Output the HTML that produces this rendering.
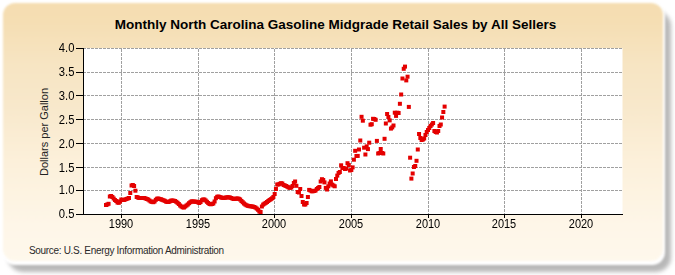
<!DOCTYPE html>
<html><head><meta charset="utf-8"><style>
html,body{margin:0;padding:0;background:#fff;}
body{width:675px;height:275px;position:relative;overflow:hidden;font-family:"Liberation Sans",sans-serif;}
.shadow{position:absolute;left:8px;top:11px;width:662.5px;height:261px;border-radius:15px;background:#b8b8b8;filter:blur(2.2px);}
.rim{position:absolute;left:2px;top:2px;width:663px;height:262.5px;border-radius:13px;background:#ffffff;filter:blur(1px);}
.card{position:absolute;left:3px;top:3px;width:659.5px;height:257.5px;border-radius:12px;filter:blur(1px);
 background:linear-gradient(to bottom,rgb(245,221,177) 0%,rgb(245,222,179) 7%,rgb(247,229,195) 24%,rgb(248,232,203) 39.5%,rgb(252,240,218) 61%,rgb(254,246,232) 86%,rgb(254,248,236) 100%);}
.title{position:absolute;left:-2px;width:675px;top:17px;text-align:center;font-weight:bold;font-size:13.5px;color:#000;white-space:nowrap;}
.yl{position:absolute;left:40px;width:34.5px;text-align:right;font-size:12.5px;transform:scaleX(0.9);transform-origin:100% 0;color:#000;line-height:14px;}
.xl{position:absolute;top:216.5px;width:40px;text-align:center;font-size:12.5px;transform:scaleX(0.88);transform-origin:50% 0;color:#000;line-height:14px;}
.ylab{position:absolute;left:44px;top:131.5px;font-size:11px;color:#222;white-space:nowrap;transform:translate(-50%,-50%) rotate(-90deg);line-height:12px;}
.src{position:absolute;left:29px;top:245px;font-size:10px;letter-spacing:-0.32px;color:#2a2a2a;white-space:nowrap;line-height:12px;}
svg{position:absolute;left:0;top:0;}
</style></head><body>
<div class="shadow"></div><div class="rim"></div><div class="card"></div>
<svg width="675" height="275">
<rect x="84" y="48" width="538.5" height="166" fill="#fff"/>
<g stroke="#a0a0a0" stroke-width="1" stroke-dasharray="3,1"><line x1="83" y1="48.5" x2="622.5" y2="48.5"/><line x1="83" y1="72.5" x2="622.5" y2="72.5"/><line x1="83" y1="95.5" x2="622.5" y2="95.5"/><line x1="83" y1="119.5" x2="622.5" y2="119.5"/><line x1="83" y1="143.5" x2="622.5" y2="143.5"/><line x1="83" y1="167.5" x2="622.5" y2="167.5"/><line x1="83" y1="190.5" x2="622.5" y2="190.5"/><line x1="121.5" y1="49" x2="121.5" y2="214"/><line x1="198.5" y1="49" x2="198.5" y2="214"/><line x1="274.5" y1="49" x2="274.5" y2="214"/><line x1="351.5" y1="49" x2="351.5" y2="214"/><line x1="428.5" y1="49" x2="428.5" y2="214"/><line x1="504.5" y1="49" x2="504.5" y2="214"/><line x1="581.5" y1="49" x2="581.5" y2="214"/></g>
<g fill="#e40000"><rect x="104.00" y="203.00" width="4" height="4"/><rect x="105.28" y="202.50" width="4" height="4"/><rect x="106.56" y="201.80" width="4" height="4"/><rect x="107.83" y="194.50" width="4" height="4"/><rect x="109.11" y="194.00" width="4" height="4"/><rect x="110.39" y="195.00" width="4" height="4"/><rect x="111.67" y="196.50" width="4" height="4"/><rect x="112.94" y="198.00" width="4" height="4"/><rect x="114.22" y="199.00" width="4" height="4"/><rect x="115.50" y="200.50" width="4" height="4"/><rect x="116.78" y="200.80" width="4" height="4"/><rect x="118.06" y="199.50" width="4" height="4"/><rect x="119.33" y="197.50" width="4" height="4"/><rect x="120.61" y="198.00" width="4" height="4"/><rect x="121.89" y="198.00" width="4" height="4"/><rect x="123.17" y="197.50" width="4" height="4"/><rect x="124.44" y="197.00" width="4" height="4"/><rect x="125.72" y="196.50" width="4" height="4"/><rect x="127.00" y="196.00" width="4" height="4"/><rect x="128.28" y="191.00" width="4" height="4"/><rect x="129.56" y="183.50" width="4" height="4"/><rect x="130.83" y="183.00" width="4" height="4"/><rect x="132.11" y="184.00" width="4" height="4"/><rect x="133.39" y="188.70" width="4" height="4"/><rect x="134.67" y="195.00" width="4" height="4"/><rect x="135.94" y="195.50" width="4" height="4"/><rect x="137.22" y="196.00" width="4" height="4"/><rect x="138.50" y="196.00" width="4" height="4"/><rect x="139.78" y="196.00" width="4" height="4"/><rect x="141.06" y="196.00" width="4" height="4"/><rect x="142.33" y="196.00" width="4" height="4"/><rect x="143.61" y="196.50" width="4" height="4"/><rect x="144.89" y="197.00" width="4" height="4"/><rect x="146.17" y="197.50" width="4" height="4"/><rect x="147.45" y="198.50" width="4" height="4"/><rect x="148.72" y="199.50" width="4" height="4"/><rect x="150.00" y="199.80" width="4" height="4"/><rect x="151.28" y="200.20" width="4" height="4"/><rect x="152.56" y="199.50" width="4" height="4"/><rect x="153.83" y="197.80" width="4" height="4"/><rect x="155.11" y="196.70" width="4" height="4"/><rect x="156.39" y="196.50" width="4" height="4"/><rect x="157.67" y="197.00" width="4" height="4"/><rect x="158.95" y="197.30" width="4" height="4"/><rect x="160.22" y="197.80" width="4" height="4"/><rect x="161.50" y="198.30" width="4" height="4"/><rect x="162.78" y="198.80" width="4" height="4"/><rect x="164.06" y="199.60" width="4" height="4"/><rect x="165.33" y="200.00" width="4" height="4"/><rect x="166.61" y="200.00" width="4" height="4"/><rect x="167.89" y="199.30" width="4" height="4"/><rect x="169.17" y="198.60" width="4" height="4"/><rect x="170.45" y="198.50" width="4" height="4"/><rect x="171.72" y="198.70" width="4" height="4"/><rect x="173.00" y="199.00" width="4" height="4"/><rect x="174.28" y="199.80" width="4" height="4"/><rect x="175.56" y="200.80" width="4" height="4"/><rect x="176.83" y="202.00" width="4" height="4"/><rect x="178.11" y="203.50" width="4" height="4"/><rect x="179.39" y="204.50" width="4" height="4"/><rect x="180.67" y="205.30" width="4" height="4"/><rect x="181.95" y="205.50" width="4" height="4"/><rect x="183.22" y="204.50" width="4" height="4"/><rect x="184.50" y="203.50" width="4" height="4"/><rect x="185.78" y="202.50" width="4" height="4"/><rect x="187.06" y="201.20" width="4" height="4"/><rect x="188.33" y="200.20" width="4" height="4"/><rect x="189.61" y="199.30" width="4" height="4"/><rect x="190.89" y="199.50" width="4" height="4"/><rect x="192.17" y="199.60" width="4" height="4"/><rect x="193.45" y="199.70" width="4" height="4"/><rect x="194.72" y="199.80" width="4" height="4"/><rect x="196.00" y="200.30" width="4" height="4"/><rect x="197.28" y="201.00" width="4" height="4"/><rect x="198.56" y="200.00" width="4" height="4"/><rect x="199.84" y="198.20" width="4" height="4"/><rect x="201.11" y="197.50" width="4" height="4"/><rect x="202.39" y="197.50" width="4" height="4"/><rect x="203.67" y="198.50" width="4" height="4"/><rect x="204.95" y="199.80" width="4" height="4"/><rect x="206.22" y="201.00" width="4" height="4"/><rect x="207.50" y="202.00" width="4" height="4"/><rect x="208.78" y="202.30" width="4" height="4"/><rect x="210.06" y="202.00" width="4" height="4"/><rect x="211.34" y="201.50" width="4" height="4"/><rect x="212.61" y="199.50" width="4" height="4"/><rect x="213.89" y="196.20" width="4" height="4"/><rect x="215.17" y="194.80" width="4" height="4"/><rect x="216.45" y="194.50" width="4" height="4"/><rect x="217.72" y="195.00" width="4" height="4"/><rect x="219.00" y="195.50" width="4" height="4"/><rect x="220.28" y="195.80" width="4" height="4"/><rect x="221.56" y="196.00" width="4" height="4"/><rect x="222.84" y="195.80" width="4" height="4"/><rect x="224.11" y="195.50" width="4" height="4"/><rect x="225.39" y="195.30" width="4" height="4"/><rect x="226.67" y="195.30" width="4" height="4"/><rect x="227.95" y="195.50" width="4" height="4"/><rect x="229.22" y="196.00" width="4" height="4"/><rect x="230.50" y="196.60" width="4" height="4"/><rect x="231.78" y="197.00" width="4" height="4"/><rect x="233.06" y="196.80" width="4" height="4"/><rect x="234.34" y="196.60" width="4" height="4"/><rect x="235.61" y="196.50" width="4" height="4"/><rect x="236.89" y="196.80" width="4" height="4"/><rect x="238.17" y="197.50" width="4" height="4"/><rect x="239.45" y="199.00" width="4" height="4"/><rect x="240.72" y="200.20" width="4" height="4"/><rect x="242.00" y="201.50" width="4" height="4"/><rect x="243.28" y="202.50" width="4" height="4"/><rect x="244.56" y="203.30" width="4" height="4"/><rect x="245.84" y="203.80" width="4" height="4"/><rect x="247.11" y="204.10" width="4" height="4"/><rect x="248.39" y="204.30" width="4" height="4"/><rect x="249.67" y="204.40" width="4" height="4"/><rect x="250.95" y="204.60" width="4" height="4"/><rect x="252.22" y="205.00" width="4" height="4"/><rect x="253.50" y="205.60" width="4" height="4"/><rect x="254.78" y="206.60" width="4" height="4"/><rect x="256.06" y="207.80" width="4" height="4"/><rect x="257.34" y="209.50" width="4" height="4"/><rect x="258.61" y="210.00" width="4" height="4"/><rect x="259.89" y="204.50" width="4" height="4"/><rect x="261.17" y="202.60" width="4" height="4"/><rect x="262.45" y="201.70" width="4" height="4"/><rect x="263.73" y="200.90" width="4" height="4"/><rect x="265.00" y="200.00" width="4" height="4"/><rect x="266.28" y="199.00" width="4" height="4"/><rect x="267.56" y="198.00" width="4" height="4"/><rect x="268.84" y="197.20" width="4" height="4"/><rect x="270.11" y="196.30" width="4" height="4"/><rect x="271.39" y="195.00" width="4" height="4"/><rect x="272.67" y="192.00" width="4" height="4"/><rect x="273.95" y="187.00" width="4" height="4"/><rect x="275.23" y="182.50" width="4" height="4"/><rect x="276.50" y="182.50" width="4" height="4"/><rect x="277.78" y="181.80" width="4" height="4"/><rect x="279.06" y="181.20" width="4" height="4"/><rect x="280.34" y="181.50" width="4" height="4"/><rect x="281.61" y="183.00" width="4" height="4"/><rect x="282.89" y="183.50" width="4" height="4"/><rect x="284.17" y="184.00" width="4" height="4"/><rect x="285.45" y="184.80" width="4" height="4"/><rect x="286.73" y="185.50" width="4" height="4"/><rect x="288.00" y="185.80" width="4" height="4"/><rect x="289.28" y="185.50" width="4" height="4"/><rect x="290.56" y="184.00" width="4" height="4"/><rect x="291.84" y="181.00" width="4" height="4"/><rect x="293.11" y="179.50" width="4" height="4"/><rect x="294.39" y="183.80" width="4" height="4"/><rect x="295.67" y="190.00" width="4" height="4"/><rect x="296.95" y="190.50" width="4" height="4"/><rect x="298.23" y="187.00" width="4" height="4"/><rect x="299.50" y="194.00" width="4" height="4"/><rect x="300.78" y="200.00" width="4" height="4"/><rect x="302.06" y="202.50" width="4" height="4"/><rect x="303.34" y="202.50" width="4" height="4"/><rect x="304.61" y="201.00" width="4" height="4"/><rect x="305.89" y="195.00" width="4" height="4"/><rect x="307.17" y="187.90" width="4" height="4"/><rect x="308.45" y="188.50" width="4" height="4"/><rect x="309.73" y="189.30" width="4" height="4"/><rect x="311.00" y="189.20" width="4" height="4"/><rect x="312.28" y="189.00" width="4" height="4"/><rect x="313.56" y="188.50" width="4" height="4"/><rect x="314.84" y="187.00" width="4" height="4"/><rect x="316.11" y="186.00" width="4" height="4"/><rect x="317.39" y="185.00" width="4" height="4"/><rect x="318.67" y="179.50" width="4" height="4"/><rect x="319.95" y="177.20" width="4" height="4"/><rect x="321.23" y="178.00" width="4" height="4"/><rect x="322.50" y="180.40" width="4" height="4"/><rect x="323.78" y="185.90" width="4" height="4"/><rect x="325.06" y="187.50" width="4" height="4"/><rect x="326.34" y="184.30" width="4" height="4"/><rect x="327.62" y="181.50" width="4" height="4"/><rect x="328.89" y="179.40" width="4" height="4"/><rect x="330.17" y="182.60" width="4" height="4"/><rect x="331.45" y="183.50" width="4" height="4"/><rect x="332.73" y="184.30" width="4" height="4"/><rect x="334.00" y="177.00" width="4" height="4"/><rect x="335.28" y="173.60" width="4" height="4"/><rect x="336.56" y="171.00" width="4" height="4"/><rect x="337.84" y="170.00" width="4" height="4"/><rect x="339.12" y="163.30" width="4" height="4"/><rect x="340.39" y="166.00" width="4" height="4"/><rect x="341.67" y="166.00" width="4" height="4"/><rect x="342.95" y="167.00" width="4" height="4"/><rect x="344.23" y="166.60" width="4" height="4"/><rect x="345.50" y="161.20" width="4" height="4"/><rect x="346.78" y="163.00" width="4" height="4"/><rect x="348.06" y="168.50" width="4" height="4"/><rect x="349.34" y="168.00" width="4" height="4"/><rect x="350.62" y="165.40" width="4" height="4"/><rect x="351.89" y="157.70" width="4" height="4"/><rect x="353.17" y="148.80" width="4" height="4"/><rect x="354.45" y="154.00" width="4" height="4"/><rect x="355.73" y="153.90" width="4" height="4"/><rect x="357.00" y="147.50" width="4" height="4"/><rect x="358.28" y="138.50" width="4" height="4"/><rect x="359.56" y="114.80" width="4" height="4"/><rect x="360.84" y="118.70" width="4" height="4"/><rect x="362.12" y="145.70" width="4" height="4"/><rect x="363.39" y="152.50" width="4" height="4"/><rect x="364.67" y="144.40" width="4" height="4"/><rect x="365.95" y="147.10" width="4" height="4"/><rect x="367.23" y="140.70" width="4" height="4"/><rect x="368.50" y="122.70" width="4" height="4"/><rect x="369.78" y="122.20" width="4" height="4"/><rect x="371.06" y="116.80" width="4" height="4"/><rect x="372.34" y="117.00" width="4" height="4"/><rect x="373.62" y="117.80" width="4" height="4"/><rect x="374.89" y="138.90" width="4" height="4"/><rect x="376.17" y="151.50" width="4" height="4"/><rect x="377.45" y="151.00" width="4" height="4"/><rect x="378.73" y="147.00" width="4" height="4"/><rect x="380.00" y="151.00" width="4" height="4"/><rect x="381.28" y="151.50" width="4" height="4"/><rect x="382.56" y="136.80" width="4" height="4"/><rect x="383.84" y="121.50" width="4" height="4"/><rect x="385.12" y="112.00" width="4" height="4"/><rect x="386.39" y="115.00" width="4" height="4"/><rect x="387.67" y="118.40" width="4" height="4"/><rect x="388.95" y="126.60" width="4" height="4"/><rect x="390.23" y="125.40" width="4" height="4"/><rect x="391.50" y="123.50" width="4" height="4"/><rect x="392.78" y="110.70" width="4" height="4"/><rect x="394.06" y="113.90" width="4" height="4"/><rect x="395.34" y="110.70" width="4" height="4"/><rect x="396.62" y="111.00" width="4" height="4"/><rect x="397.89" y="101.80" width="4" height="4"/><rect x="399.17" y="92.50" width="4" height="4"/><rect x="400.45" y="76.50" width="4" height="4"/><rect x="401.73" y="66.80" width="4" height="4"/><rect x="403.01" y="64.60" width="4" height="4"/><rect x="404.28" y="78.40" width="4" height="4"/><rect x="405.56" y="74.70" width="4" height="4"/><rect x="406.84" y="104.90" width="4" height="4"/><rect x="408.12" y="155.70" width="4" height="4"/><rect x="409.39" y="176.60" width="4" height="4"/><rect x="410.67" y="171.50" width="4" height="4"/><rect x="411.95" y="165.00" width="4" height="4"/><rect x="413.23" y="164.00" width="4" height="4"/><rect x="414.51" y="158.80" width="4" height="4"/><rect x="415.78" y="147.50" width="4" height="4"/><rect x="417.06" y="132.00" width="4" height="4"/><rect x="418.34" y="136.00" width="4" height="4"/><rect x="419.62" y="138.00" width="4" height="4"/><rect x="420.89" y="137.50" width="4" height="4"/><rect x="422.17" y="136.50" width="4" height="4"/><rect x="423.45" y="133.00" width="4" height="4"/><rect x="424.73" y="130.00" width="4" height="4"/><rect x="426.01" y="128.00" width="4" height="4"/><rect x="427.28" y="126.00" width="4" height="4"/><rect x="428.56" y="124.00" width="4" height="4"/><rect x="429.84" y="122.50" width="4" height="4"/><rect x="431.12" y="121.00" width="4" height="4"/><rect x="432.39" y="129.00" width="4" height="4"/><rect x="433.67" y="130.00" width="4" height="4"/><rect x="434.95" y="130.50" width="4" height="4"/><rect x="436.23" y="129.00" width="4" height="4"/><rect x="437.51" y="124.00" width="4" height="4"/><rect x="438.78" y="122.50" width="4" height="4"/><rect x="440.06" y="115.50" width="4" height="4"/><rect x="441.34" y="110.00" width="4" height="4"/><rect x="442.62" y="104.60" width="4" height="4"/></g>
<g stroke="#000" stroke-width="1"><line x1="76" y1="48.5" x2="84" y2="48.5"/><line x1="76" y1="72.5" x2="84" y2="72.5"/><line x1="76" y1="95.5" x2="84" y2="95.5"/><line x1="76" y1="119.5" x2="84" y2="119.5"/><line x1="76" y1="143.5" x2="84" y2="143.5"/><line x1="76" y1="167.5" x2="84" y2="167.5"/><line x1="76" y1="190.5" x2="84" y2="190.5"/><line x1="76" y1="214.5" x2="84" y2="214.5"/><line x1="121.5" y1="214" x2="121.5" y2="218"/><line x1="198.5" y1="214" x2="198.5" y2="218"/><line x1="274.5" y1="214" x2="274.5" y2="218"/><line x1="351.5" y1="214" x2="351.5" y2="218"/><line x1="428.5" y1="214" x2="428.5" y2="218"/><line x1="504.5" y1="214" x2="504.5" y2="218"/><line x1="581.5" y1="214" x2="581.5" y2="218"/>
<line x1="83.5" y1="48" x2="83.5" y2="215"/>
<line x1="76" y1="214.5" x2="623" y2="214.5"/>
</g>
</svg>
<div class="title">Monthly North Carolina Gasoline Midgrade Retail Sales by All Sellers</div>
<div class="yl" style="top:41px">4.0</div><div class="yl" style="top:65px">3.5</div><div class="yl" style="top:89px">3.0</div><div class="yl" style="top:113px">2.5</div><div class="yl" style="top:137px">2.0</div><div class="yl" style="top:161px">1.5</div><div class="yl" style="top:183px">1.0</div><div class="yl" style="top:207px">0.5</div><div class="xl" style="left:101px">1990</div><div class="xl" style="left:178px">1995</div><div class="xl" style="left:254px">2000</div><div class="xl" style="left:331px">2005</div><div class="xl" style="left:408px">2010</div><div class="xl" style="left:484px">2015</div><div class="xl" style="left:561px">2020</div>
<div class="ylab">Dollars per Gallon</div>
<div class="src">Source: U.S. Energy Information Administration</div>
</body></html>
